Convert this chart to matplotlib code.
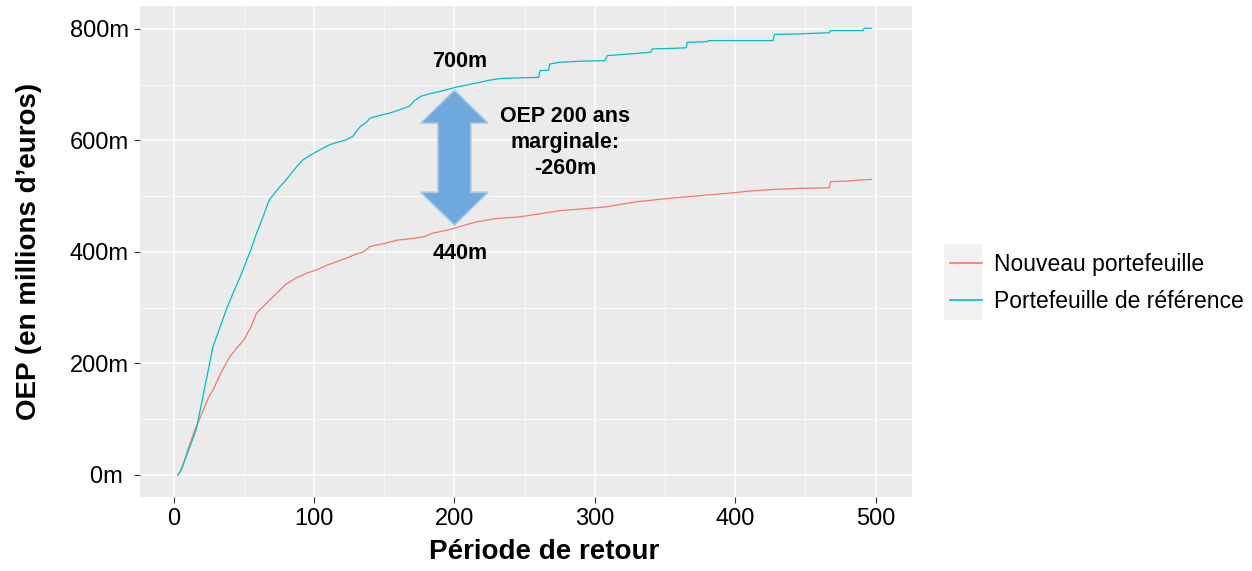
"""OEP curve comparison: new portfolio vs reference portfolio (ggplot-like look)."""
import matplotlib; matplotlib.use('Agg')
import matplotlib.pyplot as plt
from matplotlib.patches import Polygon, Rectangle
from matplotlib.ticker import MultipleLocator

plt.rcParams['font.family'] = ['Liberation Sans', 'DejaVu Sans']

# reference portfolio (cyan), in millions of euros
ref_x = [3, 5, 10, 16, 22, 28, 33, 38, 43, 48, 52, 55, 59, 64, 68, 74, 80, 86, 92, 97, 102, 107, 111, 117,
         123, 128, 130, 133, 137, 140, 147, 154, 161, 168, 171, 176, 183, 190, 196, 202, 210, 218, 225, 233,
         245, 260, 261, 267, 268, 275, 290, 307, 309, 325, 340, 341, 355, 365, 366, 380, 381, 400, 427, 428,
         445, 467, 468, 480, 491, 492, 497]
ref_y = [0, 8, 40, 81, 155, 230, 265, 300, 330, 359, 385, 404, 433, 465, 493, 512, 529, 548, 565, 573, 580,
         587, 592, 597, 601, 608, 616, 625, 632, 640, 645, 649, 655, 661, 670, 679, 684, 688, 692, 696, 700,
         704, 708, 711, 712, 713, 725, 726, 737, 740, 742, 743, 752, 755, 758, 764, 765, 766, 776, 777, 779,
         779, 779, 790, 791, 793, 797, 797, 797, 801, 801]

# new portfolio (red)
new_x = [3, 6, 10, 15, 20, 25, 28, 34, 40, 45, 50, 55, 59, 65, 73, 80, 87, 95, 102, 110, 117, 123, 130, 135,
         140, 150, 159, 170, 178, 185, 195, 202, 210, 216, 230, 247, 260, 275, 290, 309, 320, 330, 345, 366,
         380, 394, 410, 427, 445, 467, 468, 480, 489, 497]
new_y = [0, 12, 45, 80, 110, 140, 152, 185, 212, 228, 242, 265, 290, 305, 325, 342, 353, 362, 368, 377, 383,
         389, 396, 400, 410, 415, 421, 424, 427, 434, 439, 444, 450, 454, 460, 463, 468, 474, 477, 481, 486,
         490, 494, 499, 502, 505, 509, 512, 514, 515, 526, 527, 529, 530]

y_ticks = [0, 200, 400, 600, 800]
y_labels = ['0m ', '200m', '400m', '600m', '800m']
x_ticks = [0, 100, 200, 300, 400, 500]

fig = plt.figure(figsize=(12.52, 5.71), dpi=100)
ax = fig.add_axes([140/1252, 1-497/571, (912-140)/1252, (497-6)/571])
ax.set_facecolor('#EBEBEB')
for s in ax.spines.values():
    s.set_visible(False)

ax.xaxis.set_minor_locator(MultipleLocator(50))
ax.yaxis.set_minor_locator(MultipleLocator(100))
ax.grid(which='major', color='white', lw=1.1)
ax.grid(which='minor', color='white', lw=0.5)
ax.set_axisbelow(True)

ax.plot(new_x, new_y, color='#F8766D', lw=0.9, label='Nouveau portefeuille')
ax.plot(ref_x, ref_y, color='#00BFC4', lw=0.9, label='Portefeuille de référence')

# fat double arrow at the 200-year return period (700m -> 440m)
ax0, lo, hi = 200, 448, 690
sw, hw, hl = 11.75, 24, 59
arrow = [(ax0, hi), (ax0 + hw, hi - hl), (ax0 + sw, hi - hl), (ax0 + sw, lo + hl), (ax0 + hw, lo + hl),
         (ax0, lo), (ax0 - hw, lo + hl), (ax0 - sw, lo + hl), (ax0 - sw, hi - hl), (ax0 - hw, hi - hl)]
ax.add_patch(Polygon(arrow, closed=True, fc='#6FA8DC', ec='#A9CBEA', lw=1.2, zorder=3))

ax.text(204, 741, '700m', ha='center', va='center', fontsize=15.5, fontweight='bold')
ax.text(204, 397, '440m', ha='center', va='center', fontsize=15.5, fontweight='bold')
ax.text(279, 596, 'OEP 200 ans\nmarginale:\n-260m', ha='center', va='center', fontsize=15.5,
        fontweight='bold', linespacing=1.3)

ax.set_xlim(-24, 526)
ax.set_ylim(-39.5, 841)
ax.set_xticks(x_ticks)
ax.set_yticks(y_ticks)
ax.set_yticklabels(y_labels)
ax.tick_params(which='major', length=4, color='#333333', labelsize=17, labelcolor='black', pad=4)
ax.tick_params(which='minor', length=0)
ax.set_xlabel('Période de retour', fontsize=20, fontweight='bold')
ax.xaxis.set_label_coords((544-140)/772, -0.085)
ax.set_ylabel('OEP (en millions d\u2019euros)', fontsize=20, fontweight='bold', labelpad=20)

# grey legend key background, as in ggplot
fig.patches.append(Rectangle((944/1252, 1-320/571), 38/1252, 76/571, transform=fig.transFigure,
                             fc='#F2F2F2', ec='none'))
leg = fig.legend(loc='center left', bbox_to_anchor=(929/1252, 1-283/571), frameon=False,
                 fontsize=16.5, handlelength=1.4, handletextpad=0.55, labelspacing=0.6)
for h in leg.get_lines():
    h.set_linewidth(1.2)

fig.savefig('out.png', dpi=100)
